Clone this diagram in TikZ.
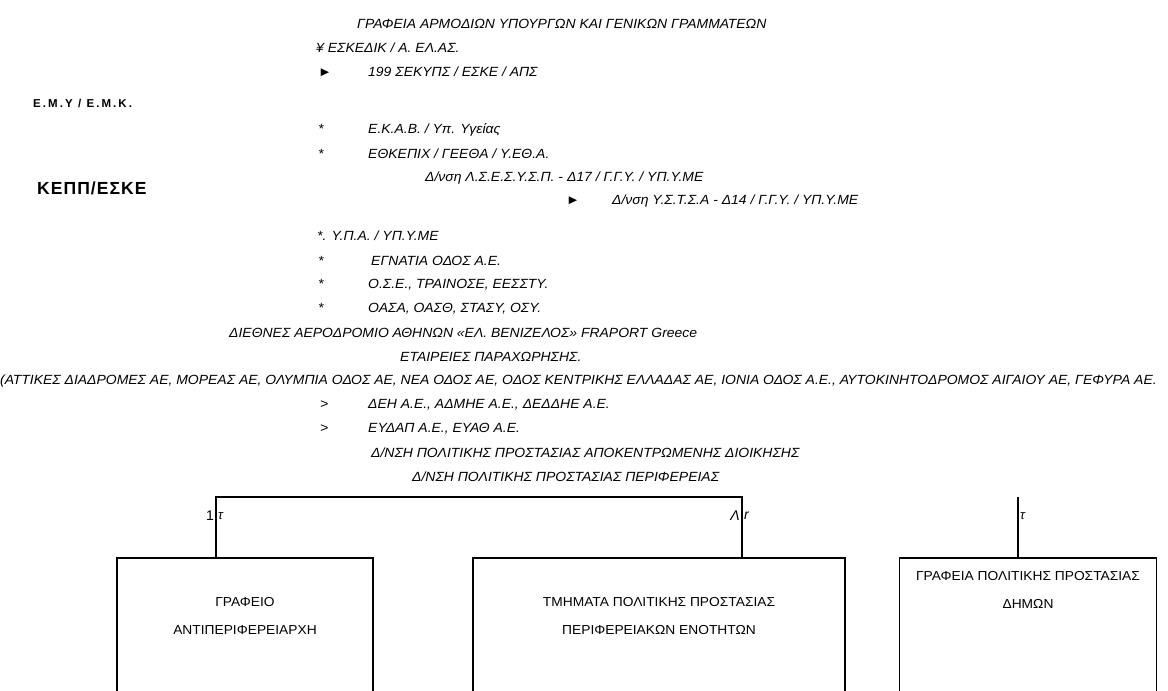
\documentclass[tikz,border=0pt]{standalone}
\usepackage{fontspec}
\setmainfont{Liberation Sans}
\usetikzlibrary{positioning}
\tikzset{
  item/.style={anchor=west, inner sep=0pt, font=\itshape\fontsize{13.3}{15}\selectfont\addfontfeature{FakeStretch=1.05}},
  head/.style={anchor=west, inner sep=0pt, font=\bfseries\fontsize{11.5}{13}\selectfont\addfontfeature{LetterSpace=18}},
  bighead/.style={anchor=west, inner sep=0pt, font=\bfseries\fontsize{17.5}{19}\selectfont\addfontfeature{LetterSpace=6}},
  unit/.style={draw, line width=1.7pt, anchor=north, minimum height=160pt},
  unittext/.style={align=center, inner sep=0pt, font=\fontsize{13}{28}\selectfont\addfontfeature{FakeStretch=1.06}},
  tie/.style={line width=1.7pt},
  tielabel/.style={inner sep=2pt, font=\fontsize{14}{16}\selectfont}
}
\newcommand{\bulbox}[2][50pt]{\makebox[#1][l]{#2}}

\begin{document}
\begin{tikzpicture}[x=1pt, y=-1pt]
    \clip (0,0) rectangle (1168,691);
    % Bodies listed on top
    \node[item] (grafeia) at (357,24) {ΓΡΑΦΕΙΑ ΑΡΜΟΔΙΩΝ ΥΠΟΥΡΓΩΝ ΚΑΙ ΓΕΝΙΚΩΝ ΓΡΑΜΜΑΤΕΩΝ};
    \node[item] (eskedik) at (316,48) {¥ ΕΣΚΕΔΙΚ / Α. ΕΛ.ΑΣ.};
    \node[item] (sekyps) at (318,72) {\bulbox{►}199 ΣΕΚΥΠΣ / ΕΣΚΕ / ΑΠΣ};
    \node[head] (emy) at (33,103) {Ε.Μ.Υ / Ε.Μ.Κ.};
    \node[item] (ekab) at (318,130) {\bulbox{*}Ε.Κ.Α.Β. / Υπ. Υγείας};
    \node[item] (ethkepix) at (318,154) {\bulbox{*}ΕΘΚΕΠΙΧ / ΓΕΕΘΑ / Υ.ΕΘ.Α.};
    \node[item] (d17) at (425,178) {Δ/νση Λ.Σ.Ε.Σ.Υ.Σ.Π. - Δ17 / Γ.Γ.Υ. / ΥΠ.Υ.ΜΕ};
    \node[bighead] (kepp) at (37,188) {ΚΕΠΠ/ΕΣΚΕ};
    \node[item] (d14) at (566,201) {\bulbox[46pt]{►}Δ/νση Υ.Σ.Τ.Σ.Α - Δ14 / Γ.Γ.Υ. / ΥΠ.Υ.ΜΕ};
    \node[item] (ypa) at (317,236) {*. Υ.Π.Α. / ΥΠ.Υ.ΜΕ};
    \node[item] (egnatia) at (318,261) {\bulbox[53pt]{*}ΕΓΝΑΤΙΑ ΟΔΟΣ Α.Ε.};
    \node[item] (ose) at (318,285) {\bulbox{*}Ο.Σ.Ε., ΤΡΑΙΝΟΣΕ, ΕΕΣΣΤΥ.};
    \node[item] (oasa) at (318,309) {\bulbox{*}ΟΑΣΑ, ΟΑΣΘ, ΣΤΑΣΥ, ΟΣΥ.};
    \node[item] (aerodromio) at (229,333) {ΔΙΕΘΝΕΣ ΑΕΡΟΔΡΟΜΙΟ ΑΘΗΝΩΝ «ΕΛ. ΒΕΝΙΖΕΛΟΣ» FRAPORT Greece};
    \node[item] (paraxorisi) at (400,357) {ΕΤΑΙΡΕΙΕΣ ΠΑΡΑΧΩΡΗΣΗΣ.};
    \node[item] (odoi) at (0,381) {(ΑΤΤΙΚΕΣ ΔΙΑΔΡΟΜΕΣ ΑΕ, ΜΟΡΕΑΣ ΑΕ, ΟΛΥΜΠΙΑ ΟΔΟΣ ΑΕ, ΝΕΑ ΟΔΟΣ ΑΕ, ΟΔΟΣ ΚΕΝΤΡΙΚΗΣ ΕΛΛΑΔΑΣ ΑΕ, ΙΟΝΙΑ ΟΔΟΣ Α.Ε., ΑΥΤΟΚΙΝΗΤΟΔΡΟΜΟΣ ΑΙΓΑΙΟΥ ΑΕ, ΓΕΦΥΡΑ ΑΕ.};
    \node[item] (deh) at (320,405) {\bulbox[48pt]{>}ΔΕΗ Α.Ε., ΑΔΜΗΕ Α.Ε., ΔΕΔΔΗΕ Α.Ε.};
    \node[item] (eydap) at (320,429) {\bulbox[48pt]{>}ΕΥΔΑΠ Α.Ε., ΕΥΑΘ Α.Ε.};
    \node[item] (dnsh_ad) at (371,453) {Δ/ΝΣΗ ΠΟΛΙΤΙΚΗΣ ΠΡΟΣΤΑΣΙΑΣ ΑΠΟΚΕΝΤΡΩΜΕΝΗΣ ΔΙΟΙΚΗΣΗΣ};
    \node[item] (dnsh_per) at (412,477) {Δ/ΝΣΗ ΠΟΛΙΤΙΚΗΣ ΠΡΟΣΤΑΣΙΑΣ ΠΕΡΙΦΕΡΕΙΑΣ};

    % Lower units
    \node[unit, minimum width=256pt] (antiper) at (245,557) {};
    \node[unit, minimum width=372pt] (tmimata) at (659,557) {};
    \node[unit, minimum width=257pt] (dimoi) at (1028,557) {};
    \node[unittext, below=40pt of antiper.north] {ΓΡΑΦΕΙΟ\\ΑΝΤΙΠΕΡΙΦΕΡΕΙΑΡΧΗ};
    \node[unittext, below=40pt of tmimata.north] {ΤΜΗΜΑΤΑ ΠΟΛΙΤΙΚΗΣ ΠΡΟΣΤΑΣΙΑΣ\\ΠΕΡΙΦΕΡΕΙΑΚΩΝ ΕΝΟΤΗΤΩΝ};
    \node[unittext, below=14pt of dimoi.north] {ΓΡΑΦΕΙΑ ΠΟΛΙΤΙΚΗΣ ΠΡΟΣΤΑΣΙΑΣ\\ΔΗΜΩΝ};

    % Ties
    \coordinate (t1) at (216,497);
    \coordinate (t2) at (742,497);
    \coordinate (t3) at (1018,497);
    \draw[tie] (t1 |- antiper.north) -- (t1) -- (t2) -- (t2 |- tmimata.north);
    \draw[tie] (t3) -- (t3 |- dimoi.north);
    \node[tielabel, anchor=east] (one) at (216,516) {1};
    \node[tielabel, anchor=west, font=\itshape\fontsize{13}{15}\selectfont] (taua) at (216,516) {τ};
    \node[tielabel, anchor=east, font=\itshape\fontsize{14}{16}\selectfont] (lam) at (742,516) {Λ};
    \node[tielabel, anchor=west, font=\itshape\fontsize{14}{16}\selectfont] (rr) at (742,516) {r};
    \node[tielabel, anchor=west, font=\itshape\fontsize{13}{15}\selectfont] (taub) at (1018,516) {τ};
\end{tikzpicture}
\end{document}
